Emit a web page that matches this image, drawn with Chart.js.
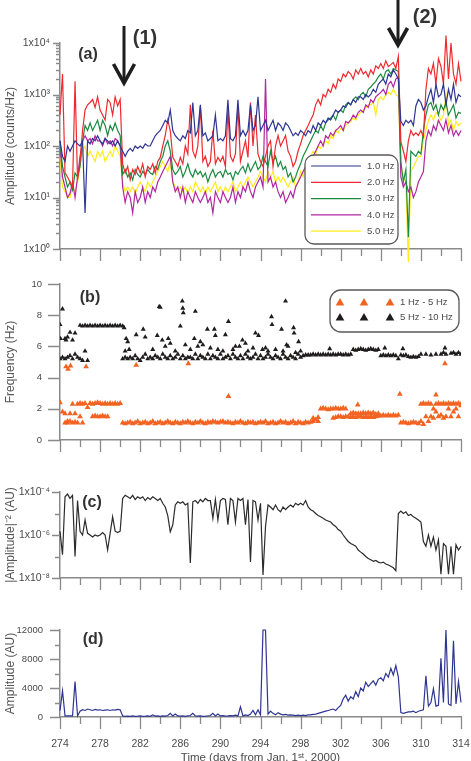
<!DOCTYPE html>
<html>
<head>
<meta charset="utf-8">
<title>Spectral amplitude and frequency, days 274-314</title>
<script src="https://cdn.jsdelivr.net/npm/chart.js@4.4.1/dist/chart.umd.min.js"></script>
<style>
  html, body { margin: 0; padding: 0; background: #fff; width: 471px; height: 761px; overflow: hidden; }
  canvas { position: absolute; left: 0; }
</style>
</head>
<body>
<canvas id="chartA" width="471" height="262" style="top:0px"></canvas>
<canvas id="chartB" width="471" height="198" style="top:262px"></canvas>
<canvas id="chartC" width="471" height="128" style="top:462px"></canvas>
<canvas id="chartD" width="471" height="177" style="top:590px"></canvas>
<script>
// time axis shared by every panel (days from Jan. 1st, 2000)
const days = [
  274, 274.25, 274.5, 274.75, 275, 275.25, 275.5, 275.75,
  276, 276.25, 276.5, 276.75, 277, 277.25, 277.5, 277.75,
  278, 278.25, 278.5, 278.75, 279, 279.25, 279.5, 279.75,
  280, 280.25, 280.5, 280.75, 281, 281.25, 281.5, 281.75,
  282, 282.25, 282.5, 282.75, 283, 283.25, 283.5, 283.75,
  284, 284.25, 284.5, 284.75, 285, 285.25, 285.5, 285.75,
  286, 286.25, 286.5, 286.75, 287, 287.25, 287.5, 287.75,
  288, 288.25, 288.5, 288.75, 289, 289.25, 289.5, 289.75,
  290, 290.25, 290.5, 290.75, 291, 291.25, 291.5, 291.75,
  292, 292.25, 292.5, 292.75, 293, 293.25, 293.5, 293.75,
  294, 294.25, 294.5, 294.75, 295, 295.25, 295.5, 295.75,
  296, 296.25, 296.5, 296.75, 297, 297.25, 297.5, 297.75,
  298, 298.25, 298.5, 298.75, 299, 299.25, 299.5, 299.75,
  300, 300.25, 300.5, 300.75, 301, 301.25, 301.5, 301.75,
  302, 302.25, 302.5, 302.75, 303, 303.25, 303.5, 303.75,
  304, 304.25, 304.5, 304.75, 305, 305.25, 305.5, 305.75,
  306, 306.25, 306.5, 306.75, 307, 307.25, 307.5, 307.75,
  308, 308.25, 308.5, 308.75, 309, 309.25, 309.5, 309.75,
  310, 310.25, 310.5, 310.75, 311, 311.25, 311.5, 311.75,
  312, 312.25, 312.5, 312.75, 313, 313.25, 313.5, 313.75,
  314
];
const xMajor = [274, 278, 282, 286, 290, 294, 298, 302, 306, 310, 314];
const xMinor = [276, 280, 284, 288, 292, 296, 300, 304, 308, 312];
const xLabels = ['274', '278', '282', '286', '290', '294', '298', '302', '306', '310', '314'];

// (a) spectral amplitude, counts/Hz
const aLabels = ['1.0 Hz', '2.0 Hz', '3.0 Hz', '4.0 Hz', '5.0 Hz'];
const aBlue = [
  126, 63, 50, 100, 79, 100, 126, 110,
  100, 126, 5, 126, 110, 140, 126, 158,
  126, 110, 140, 126, 110, 126, 100, 126,
  100, 79, 63, 79, 90, 79, 100, 90,
  100, 90, 110, 100, 100, 126, 158, 180,
  200, 250, 316, 280, 500, 200, 158, 140,
  126, 158, 140, 200, 180, 700, 158, 200,
  630, 158, 180, 126, 140, 158, 400, 126,
  140, 126, 158, 790, 140, 126, 158, 790,
  158, 200, 158, 200, 630, 200, 250, 900,
  200, 250, 316, 200, 250, 316, 200, 280,
  250, 200, 280, 250, 200, 158, 180, 160,
  200, 180, 158, 200, 180, 250, 200, 280,
  250, 316, 280, 350, 320, 400, 500, 450,
  500, 600, 560, 700, 630, 800, 700, 900,
  900, 800, 1000, 900, 1000, 1260, 1100, 1580,
  1800, 2000, 1600, 2500, 2200, 3000, 2500, 2000,
  300, 250, 316, 280, 316, 250, 600, 800,
  700, 500, 600, 900, 1260, 700, 1580, 900,
  1000, 1600, 630, 1260, 800, 1580, 700, 1000,
  900
];
const aRed = [
  400, 2500, 30, 25, 20, 16, 1800, 22,
  50, 200, 500, 630, 700, 800, 560, 900,
  500, 400, 320, 800, 700, 400, 900, 600,
  800, 45, 30, 40, 22, 35, 28, 40,
  30, 45, 25, 40, 35, 45, 30, 50,
  60, 100, 160, 320, 200, 60, 50, 40,
  60, 45, 100, 70, 630, 80, 60, 100,
  600, 50, 63, 40, 50, 200, 45, 60,
  50, 63, 40, 500, 63, 50, 70, 600,
  50, 80, 126, 60, 700, 100, 400, 70,
  50, 40, 63, 100, 126, 40, 100, 160,
  100, 126, 160, 80, 63, 40, 50, 80,
  110, 160, 200, 250, 320, 400, 630, 800,
  630, 1000, 900, 1260, 1100, 1600, 1300, 2000,
  1800, 2500, 2200, 2800, 2500, 2000, 3000, 2500,
  3200, 2500, 2800, 2200, 3000, 2500, 3600, 3200,
  4000, 3200, 4500, 3500, 3800, 4200, 3200, 5500,
  120, 80, 50, 126, 200, 160, 180, 160,
  200, 150, 1260, 3200, 2500, 4000, 1600, 5000,
  3500, 1600, 14000, 2000, 10000, 2500, 1600, 4000,
  1800
];
const aGreen = [
  126, 40, 25, 16, 20, 14, 30, 25,
  40, 126, 250, 200, 280, 200, 250, 316,
  200, 316, 250, 160, 250, 200, 280, 200,
  160, 28, 35, 25, 30, 22, 35, 28,
  25, 32, 28, 35, 30, 28, 40, 35,
  50, 63, 100, 126, 80, 35, 28, 32,
  40, 25, 32, 45, 30, 25, 35, 28,
  32, 25, 30, 20, 28, 35, 25, 30,
  32, 25, 35, 28, 30, 22, 32, 28,
  35, 40, 30, 45, 32, 40, 50, 35,
  40, 63, 50, 40, 79, 50, 63, 40,
  50, 35, 40, 25, 30, 20, 25, 35,
  45, 63, 79, 100, 126, 160, 200, 180,
  250, 200, 280, 320, 350, 400, 320, 450,
  500, 450, 630, 700, 630, 800, 900, 790,
  1000, 1100, 900, 1260, 1400, 1600, 1800, 2200,
  2500, 2000, 2800, 3000, 2500, 3200, 3000, 2800,
  50, 20, 35, 1.7, 79, 70, 63, 79,
  70, 200, 400, 630, 700, 500, 630, 400,
  630, 500, 700, 400, 500, 630, 350, 450,
  430
];
const aMagenta = [
  100, 25, 16, 10, 12, 20, 10, 25,
  63, 126, 158, 126, 140, 110, 158, 126,
  126, 100, 140, 110, 126, 100, 140, 126,
  100, 16, 8, 13, 10, 5, 13, 8,
  10, 16, 8, 13, 10, 16, 13, 20,
  25, 32, 40, 50, 63, 20, 13, 16,
  10, 16, 8, 13, 10, 8, 13, 10,
  8, 10, 13, 8, 10, 5, 13, 10,
  8, 13, 10, 8, 10, 16, 8, 13,
  10, 16, 13, 20, 13, 10, 16, 20,
  25, 16, 2000, 20, 25, 16, 20, 13,
  10, 13, 8, 10, 13, 10, 16, 20,
  25, 32, 40, 35, 50, 63, 79, 100,
  126, 100, 158, 140, 180, 158, 200, 220,
  250, 200, 300, 280, 320, 400, 350, 450,
  500, 450, 630, 560, 790, 700, 900, 1000,
  1100, 1260, 1000, 1580, 1800, 1400, 2000, 2200,
  25, 16, 20, 13, 16, 10, 13, 20,
  25, 32, 126, 200, 158, 250, 200, 316,
  250, 200, 320, 180, 250, 158, 200, 160,
  200
];
const aYellow = [
  63, 16, 13, 10, 10, 16, 13, 20,
  40, 79, 100, 63, 79, 63, 50, 79,
  63, 79, 50, 63, 79, 63, 100, 79,
  63, 20, 13, 16, 13, 16, 12, 16,
  20, 16, 13, 20, 16, 20, 25, 32,
  40, 50, 40, 32, 50, 20, 16, 13,
  16, 13, 16, 12, 16, 13, 20, 16,
  13, 16, 12, 16, 13, 16, 20, 13,
  16, 12, 16, 13, 16, 20, 13, 16,
  20, 16, 20, 25, 20, 16, 20, 25,
  32, 25, 20, 32, 25, 32, 20, 25,
  20, 25, 20, 16, 20, 25, 16, 20,
  32, 25, 40, 50, 63, 79, 70, 100,
  90, 110, 126, 110, 158, 140, 200, 180,
  220, 200, 250, 280, 300, 350, 320, 400,
  450, 500, 560, 630, 630, 700, 400, 790,
  900, 790, 1000, 1100, 1000, 1260, 1000, 900,
  40, 25, 20, 0.5, 32, 40, 50, 63,
  63, 126, 200, 316, 400, 320, 450, 400,
  316, 400, 1000, 250, 320, 200, 300, 250,
  280
];
const aYMajor = [1, 10, 100, 1000, 10000];
const aYLabels = ['1x10\u2070', '1x10\u00b9', '1x10\u00b2', '1x10\u00b3', '1x10\u2074'];
const aYMinor = [2, 3, 4, 5, 6, 7, 8, 9, 20, 30, 40, 50, 60, 70, 80, 90,
  200, 300, 400, 500, 600, 700, 800, 900, 2000, 3000, 4000, 5000, 6000, 7000, 8000, 9000];

// (b) dominant frequency, Hz
const bLabels = ['1 Hz - 5 Hz', '5 Hz - 10 Hz'];
const bOrange = [
  2.4, 1.8, 1.1, 1.1, 1.2, 2.3, 1.15, 2.3,
  2.35, 2.3, 2.35, 2.1, 2.35, 2.3, 2.35, 2.4,
  2.35, 2.3, 2.35, 2.3, 2.35, 2.3, 2.35, 2.3,
  2.35, 1.1, 1.05, 1.1, 1.15, 1.05, 1.1, 1.2,
  1.05, 1.1, 1.15, 1.05, 1.1, 1.2, 1.05, 1.1,
  1.15, 1.05, 1.1, 1.2, 1.1, 1.05, 1.15, 1.1,
  1.05, 1.15, 1.1, 1.2, 1.1, 1.05, 1.15, 1.1,
  1.2, 1.1, 1.05, 1.15, 1.1, 1.2, 1.15, 1.1,
  1.15, 1.2, 1.1, 1.15, 1.1, 1.05, 1.15, 1.1,
  1.2, 1.1, 1.05, 1.15, 1.1, 1.15, 1.05, 1.1,
  1.15, 1.1, 1.2, 1.05, 1.1, 1.15, 1.05, 1.1,
  1.2, 1.1, 1.15, 1.05, 1.1, 1.2, 1.05, 1.15,
  1.1, 1.05, 1.15, 1.1, 1.15, 1.2, 1.3, 1.2,
  2.0, 2.05, 2.0, 1.95, 2.0, 2.0, 2.05, 2.0,
  2.0, 2.05, 2.0, 1.5, 1.45, 1.5, 1.45, 1.5,
  1.5, 1.45, 1.5, 1.45, 1.5, 1.45, 1.5, 1.55,
  1.55, 1.6, 1.55, 1.6, 1.55, 1.6, 1.55, 1.6,
  1.1, 1.15, 1.1, 1.05, 1.1, 1.15, 1.1, 1.05,
  2.3, 2.35, 2.3, 2.35, 2.3, 2.0, 2.3, 2.35,
  2.3, 2.35, 2.3, 2.35, 2.3, 2.35, 2.3, 2.35,
  2.3
];
const bOrangeExtraX = [
  274.5, 274.75, 275, 275.25, 275.5, 275.75, 276, 276.25,
  277.25, 277.5, 277.75, 278, 278.25, 278.5, 278.75,
  299.25, 299.75, 301.25, 301.5, 301.75, 302, 302.25, 302.5,
  303, 303.25, 303.5, 303.75, 304, 304.25, 304.5, 304.75, 305, 305.25, 305.5, 305.75,
  310, 310.25, 310.5, 310.75, 311, 311.25, 311.5, 311.75, 312, 312.25, 312.5, 312.75, 313, 313.25, 313.5, 313.75, 314,
  274.6, 274.8, 275.05, 276.6, 281.6, 286.8, 290.8, 303.7, 307.9, 311.5, 312.4
];
const bOrangeExtraY = [
  1.7, 1.2, 1.7, 1.1, 1.7, 1.1, 1.5, 1.1,
  1.5, 1.55, 1.5, 1.5, 1.55, 1.5, 1.5,
  1.4, 1.45, 1.4, 1.45, 1.5, 1.5, 1.45, 1.5,
  1.7, 1.75, 1.7, 1.7, 1.7, 1.75, 1.7, 1.75, 1.7, 1.75, 1.65, 1.7,
  1.2, 1.0, 1.5, 1.2, 1.5, 1.4, 1.8, 1.5, 1.6, 1.4, 1.5, 2.0, 1.5, 1.8, 2.0, 1.5, 2.2,
  4.7, 4.55, 4.75, 4.7, 4.8, 4.9, 2.8, 2.25, 2.95, 2.9, 4.9
];
const bBlack = [
  5.2, 5.3, 5.2, 5.3, 5.4, 5.2, 5.5, 5.3,
  5.2, 5.1, 5.7, 5.1, null, null, null, null,
  null, null, null, null, null, null, null, null,
  null, 5.2, 5.3, 5.2, 5.3, 5.2, 5.4, 5.2,
  5.1, 5.3, 5.5, 5.2, 5.3, 5.2, 5.4, 5.3,
  5.2, 5.5, 5.3, 5.2, 5.4, 5.2, 5.3, 5.5,
  5.2, 5.4, 5.2, 5.3, 5.3, 5.2, 5.5, 5.2,
  5.4, 5.3, 5.2, 5.5, 5.2, 5.4, 5.3, 5.2,
  5.5, 5.2, 5.3, 5.4, 5.2, 5.5, 5.3, 5.2,
  5.4, 5.2, 5.5, 5.3, 5.2, 5.3, 5.5, 5.2,
  5.4, 5.2, 5.3, 5.5, 5.3, 5.2, 5.4, 5.3,
  5.2, 5.5, 5.3, 5.2, 5.4, 5.3, 5.2, 5.5,
  5.3, 5.4, 5.45, 5.45, 5.45, 5.5, 5.45, 5.5,
  5.45, 5.5, 5.45, 5.5, 5.45, 5.5, 5.45, 5.5,
  5.5, 5.45, 5.5, 5.45, 5.5, 5.8, 5.75, 5.8,
  5.85, 5.8, 5.75, 5.8, 5.85, 5.8, 5.75, 5.8,
  5.4, 5.45, 5.4, 5.45, 5.4, 5.45, 5.4, 5.2,
  5.45, 5.4, 5.45, 5.35, 5.3, 5.35, 5.3, 5.35,
  5.5, null, 5.5, null, 5.45, null, 5.5, null,
  5.5, 5.6, 5.5, null, 5.55, 5.6, 5.5, 5.6,
  5.5
];
const bBlackExtraX = [
  274, 274.05, 274.25, 274.5, 274.6, 274.75, 275, 275.25, 275.5,
  276, 276.25, 276.5, 276.75, 277, 277.25, 277.5, 277.75, 278, 278.25, 278.5, 278.75, 279, 279.25, 279.5, 279.75, 280, 280.25,
  280.4, 280.5, 280.6, 280.75, 280.9, 281.6, 282.3, 282.5, 283.25, 283.7, 283.9, 284, 284.2, 284.5, 284.8, 285, 285.5,
  286, 286.2, 286.25, 286.3, 286.5, 287, 287.4, 287.5, 287.75, 288, 288.25, 288.7, 289, 289.4, 289.5, 289.75,
  290.25, 290.5, 290.8, 291.25, 291.5, 291.9, 292.2, 292.5, 292.75, 293.25, 293.5, 293.8, 294.2, 294.5, 294.75,
  295.1, 295.15, 295.5, 296.1, 296.25, 296.5, 296.6, 296.75, 297.3, 297.35, 297.5, 297.8, 298, 300.9, 306.4, 308.2, 312.4
];
const bBlackExtraY = [
  7.4, 6.5, 8.4, 6.5, 6.4, 6.6, 6.9, 6.4, 6.85,
  7.35, 7.3, 7.35, 7.3, 7.35, 7.3, 7.35, 7.3, 7.35, 7.3, 7.35, 7.3, 7.35, 7.3, 7.35, 7.3, 7.35, 7.3,
  7.2, 5.7, 6.5, 6.3, 5.8, 6.75, 7.1, 6.6, 5.8, 6.7, 8.55, 8.5, 6.4, 6.0, 6.5, 6.2, 5.7,
  7.3, 8.9, 8.45, 8.15, 6.1, 5.8, 6.5, 8.25, 6.0, 6.3, 6.1, 7.1, 5.9, 7.1, 6.7, 5.8,
  5.7, 6.75, 7.6, 5.8, 6.0, 6.0, 6.4, 6.2, 5.7, 5.9, 6.85, 6.7, 5.8, 5.9, 5.7,
  7.9, 7.4, 5.8, 7.1, 5.7, 8.9, 6.1, 6.0, 7.2, 6.85, 5.6, 6.3, 5.7, 5.85, 5.9, 5.85, 5.9
];
const bYMajor = [0, 2, 4, 6, 8, 10];
const bYLabels = ['0', '2', '4', '6', '8', '10'];

// (c) |amplitude|^-2, AU
const cValues = [
  1.5e-6, 1.2e-7, 6e-5, 8e-5, 5e-5, 7e-5, 1e-7, 4e-5,
  1.5e-6, 1e-6, 5e-6, 1.2e-6, 1e-6, 8e-7, 1e-6, 9e-7,
  1e-6, 1.3e-6, 1e-6, 2e-7, 1.2e-6, 7e-6, 1.5e-6, 1.3e-6,
  1.5e-6, 5e-5, 7e-5, 6e-5, 5e-5, 7e-5, 4.5e-5, 6e-5,
  5e-5, 6e-5, 4e-5, 5.5e-5, 4.5e-5, 6e-5, 5e-5, 4e-5,
  5e-5, 3e-5, 2e-5, 8e-6, 1.4e-6, 3e-6, 2.5e-5, 3.5e-5,
  3e-5, 3.5e-5, 2.5e-5, 3e-5, 5e-8, 3.5e-5, 4e-5, 3e-5,
  4.5e-5, 3.5e-5, 5e-5, 4e-5, 4e-5, 6e-6, 4.5e-5, 5e-6,
  4e-5, 5e-5, 4.5e-5, 3e-6, 5e-5, 4e-5, 4e-6, 5e-5,
  4e-5, 5e-5, 3e-6, 4.5e-5, 5.6e-8, 4e-5, 3.5e-5, 5e-6,
  3e-5, 1.4e-8, 2.5e-6, 2.5e-5, 2e-5, 1.5e-5, 2.5e-5, 1.5e-5,
  1.2e-5, 2e-5, 1.5e-5, 2e-5, 2.5e-5, 2e-5, 3e-5, 2.5e-5,
  3e-5, 2.5e-5, 4e-5, 2e-5, 1.5e-5, 1.3e-5, 1e-5, 8e-6,
  7e-6, 6e-6, 5e-6, 4.5e-6, 4e-6, 3e-6, 2.5e-6, 1.8e-6,
  1.5e-6, 1e-6, 7e-7, 5e-7, 4e-7, 3.5e-7, 3e-7, 2e-7,
  1.6e-7, 1.3e-7, 1e-7, 8e-8, 7e-8, 6e-8, 6.5e-8, 5.5e-8,
  5e-8, 5.5e-8, 4.5e-8, 4e-8, 3.5e-8, 3e-8, 2.2e-8, 1e-5,
  1.3e-5, 1e-5, 1.2e-5, 8e-6, 9e-6, 7e-6, 6e-6, 5e-6,
  4e-6, 5e-7, 3e-7, 1e-6, 3e-7, 8e-7, 2e-7, 6e-7,
  1.5e-8, 4e-7, 3e-7, 1.5e-8, 3e-7, 1.5e-8, 3.5e-7, 2e-7,
  3e-7
];
const cYMajor = [1e-8, 1e-6, 1e-4];
const cYLabels = ['1x10\u207b\u2078', '1x10\u207b\u2076', '1x10\u207b\u2074'];
const cYMinor = [1e-7, 1e-5];

// (d) amplitude, AU
const dValues = [
  900, 3600, 150, 150, 150, 150, 4900, 150,
  800, 1000, 900, 1100, 1000, 900, 1050, 950,
  1000, 900, 950, 1000, 900, 1000, 950, 1050,
  1000, 150, 100, 120, 100, 150, 100, 120,
  150, 100, 120, 150, 100, 300, 120, 150,
  100, 150, 120, 200, 500, 150, 400, 150,
  120, 150, 100, 150, 200, 500, 150, 120,
  150, 100, 120, 150, 200, 500, 150, 400,
  150, 200, 120, 150, 200, 150, 250, 150,
  1400, 150, 300, 200, 400, 900, 300, 1000,
  300, 12000, 12000, 400, 800, 500, 300, 600,
  400, 300, 350, 250, 300, 250, 200, 250,
  200, 250, 200, 300, 300, 350, 400, 500,
  600, 700, 800, 900, 1000, 1100, 900, 1300,
  1600, 2500, 3000, 2200, 2800, 2500, 3500, 2800,
  4000, 3600, 4800, 4200, 4600, 5000, 4400, 5200,
  5400, 5000, 6000, 5500, 6700, 5800, 7100, 5500,
  600, 500, 600, 700, 700, 800, 600, 800,
  900, 1000, 5700, 1500, 2000, 3900, 1500, 1600,
  8100, 2000, 12000, 1800, 1600, 10500, 1800, 4900,
  2000
];
const dYMajor = [0, 4000, 8000, 12000];
const dYLabels = ['0', '4000', '8000', '12000'];
const dYMinor = [2000, 6000, 10000];

const AXIS = '#8a8a8a';
const TEXT = '#4a4a4a';
const SANS = '"Liberation Sans", Arial, sans-serif';
const NARROW = '"Liberation Sans Narrow", "Liberation Sans", Arial, sans-serif';

function xy(xs, ys) {
  return xs.map((x, i) => ({ x, y: ys[i] }));
}

function roundRect(ctx, x, y, w, h, r) {
  ctx.beginPath();
  ctx.moveTo(x + r, y);
  ctx.arcTo(x + w, y, x + w, y + h, r);
  ctx.arcTo(x + w, y + h, x, y + h, r);
  ctx.arcTo(x, y + h, x, y, r);
  ctx.arcTo(x, y, x + w, y, r);
  ctx.closePath();
}

function triangle(ctx, x, y, r) {
  ctx.beginPath();
  ctx.moveTo(x, y - r);
  ctx.lineTo(x + r * 0.866, y + r * 0.5);
  ctx.lineTo(x - r * 0.866, y + r * 0.5);
  ctx.closePath();
  ctx.fill();
}

// outside tick marks, long and short, placed with the chart's own scales
const tickMarks = {
  id: 'tickMarks',
  afterDraw(chart, args, opts) {
    const { ctx } = chart;
    const xs = chart.scales.x;
    const ys = chart.scales.y;
    ctx.save();
    ctx.strokeStyle = AXIS;
    ctx.lineWidth = 1.3;
    ctx.beginPath();
    (opts.x || []).forEach(([vals, len]) => vals.forEach(v => {
      const px = Math.round(xs.getPixelForValue(v)) + 0.5;
      ctx.moveTo(px, xs.top);
      ctx.lineTo(px, xs.top + len);
    }));
    (opts.y || []).forEach(([vals, len]) => vals.forEach(v => {
      const py = Math.round(ys.getPixelForValue(v)) + 0.5;
      ctx.moveTo(ys.right, py);
      ctx.lineTo(ys.right - len, py);
    }));
    ctx.stroke();
    ctx.restore();
  }
};

const boxLegend = {
  id: 'boxLegend',
  afterDatasetsDraw(chart, args, o) {
    const { ctx } = chart;
    ctx.save();
    roundRect(ctx, o.x, o.y, o.w, o.h, o.r);
    ctx.fillStyle = '#fff';
    ctx.fill();
    ctx.lineWidth = 1.3;
    ctx.strokeStyle = '#5a5a5a';
    ctx.stroke();
    ctx.font = '9.5px ' + SANS;
    ctx.textBaseline = 'middle';
    const items = chart.data.datasets.filter(ds => ds.label);
    items.forEach((ds, i) => {
      const y = o.y + o.first + i * o.step;
      if (o.kind === 'tri') {
        ctx.fillStyle = ds.backgroundColor;
        o.marks.forEach(mx => triangle(ctx, mx, y + 1, 5));
      } else {
        ctx.strokeStyle = ds.borderColor;
        ctx.lineWidth = 1.2;
        ctx.beginPath();
        ctx.moveTo(o.lineFrom, y);
        ctx.lineTo(o.lineTo, y);
        ctx.stroke();
      }
      ctx.fillStyle = TEXT;
      ctx.fillText(ds.label, o.textX, y);
    });
    ctx.restore();
  }
};

const notes = {
  id: 'notes',
  afterDraw(chart, args, o) {
    const { ctx } = chart;
    const xs = chart.scales.x;
    ctx.save();
    ctx.strokeStyle = '#1e1e1e';
    ctx.lineCap = 'butt';
    ctx.lineJoin = 'miter';
    (o.arrows || []).forEach(a => {
      const x = Math.round(xs.getPixelForValue(a.day));
      ctx.lineWidth = 3;
      ctx.beginPath();
      ctx.moveTo(x, a.y1);
      ctx.lineTo(x, a.y2 - 3);
      ctx.stroke();
      ctx.lineWidth = 3.6;
      ctx.beginPath();
      ctx.moveTo(x - a.half, a.y2 - a.head);
      ctx.lineTo(x, a.y2 - 2);
      ctx.lineTo(x + a.half, a.y2 - a.head);
      ctx.stroke();
    });
    ctx.fillStyle = '#333';
    ctx.textAlign = 'center';
    ctx.textBaseline = 'middle';
    (o.texts || []).forEach(t => {
      ctx.font = 'bold ' + t.size + 'px ' + NARROW;
      ctx.fillText(t.text, t.x, t.y);
    });
    ctx.restore();
  }
};

function baseOptions(top) {
  return {
    responsive: false,
    animation: false,
    events: [],
    devicePixelRatio: 1,
    layout: { padding: { top, right: 10, bottom: 0, left: 0 } }
  };
}

// label offsets go through tickLength (grid itself hidden) so they do not
// widen the layout padding the way ticks.padding would
function xScale(height, showLabels, title) {
  return {
    type: 'linear',
    min: 274,
    max: 314,
    grid: { display: false, drawTicks: true, tickLength: 21 },
    border: { display: true, color: AXIS, width: 1.5 },
    afterBuildTicks: s => { s.ticks = xMajor.map(v => ({ value: v })); },
    ticks: {
      display: showLabels,
      autoSkip: false,
      maxRotation: 0,
      padding: 0,
      color: TEXT,
      font: { family: NARROW, size: 10.5 },
      callback: (v, i) => xLabels[i]
    },
    title: title
      ? { display: true, text: title, color: TEXT, font: { family: NARROW, size: 11.5 }, padding: { top: 0, bottom: 2 } }
      : { display: false },
    afterFit: s => { s.height = height; }
  };
}

function yScale(cfg) {
  return {
    type: cfg.type,
    min: cfg.min,
    max: cfg.max,
    grid: { display: false, drawTicks: true, tickLength: cfg.pad },
    border: { display: true, color: AXIS, width: 1.5 },
    afterBuildTicks: s => { s.ticks = cfg.ticks.map(v => ({ value: v })); },
    ticks: {
      autoSkip: false,
      padding: 0,
      color: TEXT,
      font: { family: SANS, size: cfg.size },
      callback: (v, i) => cfg.labels[i]
    },
    title: { display: true, text: cfg.title, color: '#555', font: { family: SANS, size: 12 }, padding: { top: 3, bottom: 0 } },
    afterFit: s => { s.width = 60; }
  };
}

function trace(label, values, color) {
  return {
    label,
    data: xy(days, values),
    borderColor: color,
    backgroundColor: color,
    borderWidth: 1.2,
    pointRadius: 0,
    tension: 0,
    clip: false
  };
}

function marks(label, xs, ys, color, r) {
  return {
    label,
    data: xy(xs, ys),
    pointStyle: 'triangle',
    pointRadius: r,
    backgroundColor: color,
    borderWidth: 0
  };
}

const ORANGE = '#f26322';
const BLACK = '#1f1c1c';

new Chart(document.getElementById('chartA'), {
  type: 'line',
  data: {
    datasets: [
      trace(aLabels[0], aBlue, '#2e3592'),
      trace(aLabels[1], aRed, '#ee2a2f'),
      trace(aLabels[2], aGreen, '#1c8a40'),
      trace(aLabels[3], aMagenta, '#b1279f'),
      trace(aLabels[4], aYellow, '#ffec1a')
    ]
  },
  options: {
    ...baseOptions(43),
    scales: {
      x: xScale(13, false),
      y: yScale({ type: 'logarithmic', min: 1, max: 10000, ticks: aYMajor, labels: aYLabels, pad: 10, size: 10.5, title: 'Amplitude (counts/Hz)' })
    },
    plugins: {
      legend: { display: false },
      tooltip: { enabled: false },
      tickMarks: { x: [[xMajor, 12], [xMinor, 7]], y: [[aYMajor, 7], [aYMinor, 4]] },
      boxLegend: { kind: 'line', x: 305, y: 155, w: 93, h: 89, r: 9, first: 11, step: 16.3, lineFrom: 311, lineTo: 361, textX: 367 },
      notes: {
        arrows: [
          { day: 280.4, y1: 26, y2: 85, half: 10.5, head: 21 },
          { day: 307.7, y1: -2, y2: 47, half: 9.5, head: 19 }
        ],
        texts: [
          { text: '(a)', x: 88, y: 55, size: 16 },
          { text: '(1)', x: 145, y: 38, size: 20 },
          { text: '(2)', x: 425, y: 17, size: 20 }
        ]
      }
    }
  },
  plugins: [tickMarks, boxLegend, notes]
});

new Chart(document.getElementById('chartB'), {
  type: 'scatter',
  data: {
    datasets: [
      marks(bLabels[0], days, bOrange, ORANGE, 3.3),
      marks('', bOrangeExtraX, bOrangeExtraY, ORANGE, 3.3),
      marks(bLabels[1], days, bBlack, BLACK, 2.9),
      marks('', bBlackExtraX, bBlackExtraY, BLACK, 2.9)
    ]
  },
  options: {
    ...baseOptions(22),
    scales: {
      x: xScale(20, false),
      y: yScale({ type: 'linear', min: 0, max: 10, ticks: bYMajor, labels: bYLabels, pad: 18, size: 9.5, title: 'Frequency (Hz)' })
    },
    plugins: {
      legend: { display: false },
      tooltip: { enabled: false },
      tickMarks: { x: [[xMajor, 12], [xMinor, 7]], y: [[bYMajor, 12]] },
      boxLegend: { kind: 'tri', x: 330, y: 28, w: 129, h: 42, r: 11, first: 12, step: 15, marks: [340, 364, 390], textX: 400 },
      notes: { texts: [{ text: '(b)', x: 90, y: 36, size: 16 }] }
    }
  },
  plugins: [tickMarks, boxLegend, notes]
});

new Chart(document.getElementById('chartC'), {
  type: 'line',
  data: { datasets: [trace('|Amplitude|\u207b\u00b2', cValues, '#2b2b2b')] },
  options: {
    ...baseOptions(30),
    scales: {
      x: xScale(12, false),
      y: yScale({ type: 'logarithmic', min: 1e-8, max: 1e-4, ticks: cYMajor, labels: cYLabels, pad: 10, size: 10.5, title: '|Amplitude|\u207b\u00b2 (AU)' })
    },
    plugins: {
      legend: { display: false },
      tooltip: { enabled: false },
      tickMarks: { x: [[xMajor, 12], [xMinor, 7]], y: [[cYMajor, 8], [cYMinor, 5]] },
      notes: { texts: [{ text: '(c)', x: 92, y: 41, size: 16 }] }
    }
  },
  plugins: [tickMarks, notes]
});

new Chart(document.getElementById('chartD'), {
  type: 'line',
  data: { datasets: [trace('Amplitude', dValues, '#2e3592')] },
  options: {
    ...baseOptions(40),
    scales: {
      x: xScale(50, true, 'Time (days from Jan. 1\u02e2\u1d57, 2000)'),
      y: yScale({ type: 'linear', min: 0, max: 12000, ticks: dYMajor, labels: dYLabels, pad: 17, size: 9.5, title: 'Amplitude (AU)' })
    },
    plugins: {
      legend: { display: false },
      tooltip: { enabled: false },
      tickMarks: { x: [[xMajor, 12], [xMinor, 7]], y: [[dYMajor, 10], [dYMinor, 5]] },
      notes: { texts: [{ text: '(d)', x: 93, y: 50, size: 16 }] }
    }
  },
  plugins: [tickMarks, notes]
});
</script>
</body>
</html>
